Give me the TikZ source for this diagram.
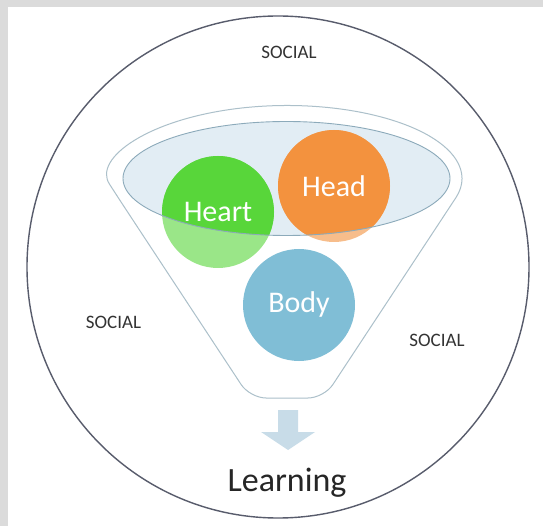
\documentclass[tikz,border=0pt]{standalone}
\usepackage{fontspec}
\setmainfont{Carlito}
\usepackage{xcolor}
\usetikzlibrary{positioning}

\definecolor{heartgreen}{RGB}{88,214,58}
\definecolor{headorange}{RGB}{243,146,62}
\definecolor{bodyblue}{RGB}{128,190,214}
\definecolor{bowlfill}{RGB}{226,237,244}
\definecolor{bowlline}{RGB}{140,170,186}
\definecolor{funnelline}{RGB}{172,192,202}
\definecolor{ringline}{RGB}{88,92,108}
\definecolor{flowblue}{RGB}{200,220,232}

\begin{document}
\begin{tikzpicture}[
    x=1pt, y=-1pt,
    ball/.style={circle, minimum size=112pt, inner sep=0pt},
    word/.style={text=white, font=\fontsize{30}{30}\selectfont},
    social/.style={text=black!80, font=\fontsize{19}{19}\selectfont},
    learn/.style={text=black!85, font=\fontsize{34}{34}\selectfont},
    rim/.style={draw=funnelline, line width=1pt},
]

% page frame
\fill[black!14] (0,0) rectangle (543,526);
\fill[white] (8,7) rectangle (543,526);
\useasboundingbox (0,0) rectangle (543,526);

% social circle
\draw[ringline, line width=1.4pt] (278,267) circle[radius=251];

% funnel
\draw[rim, fill=white] (118,197.4) arc[start angle=165, end angle=375, x radius=175, y radius=73]
    [rounded corners=16pt] -- (324,398) -- (250,398) -- cycle;
\fill[bowlfill] (286.5,178.5) ellipse[x radius=163.5, y radius=57];

% the three circles
\node[ball, fill=heartgreen, fill opacity=0.6] (heart) at (218,212) {};
\node[ball, fill=headorange, fill opacity=0.6] (head) at (334,186) {};
\node[ball, fill=bodyblue] (body) at (299,305) {};

\begin{scope}
  \clip (286.5,178.5) ellipse[x radius=163.5, y radius=57];
  \fill[heartgreen] (heart.center) circle[radius=56];
  \fill[headorange] (head.center) circle[radius=56];
\end{scope}
\draw[bowlline, line width=0.9pt] (286.5,178.5) ellipse[x radius=163.5, y radius=57];

\node[word] (heartword) at (heart) {Heart};
\node[word] (headword) at (head) {Head};
\node[word] (bodyword) at (body) {Body};

% outcome
\fill[flowblue] (278,410) -- (298,410) -- (298,432) -- (315,432) -- (288,450)
    -- (261,432) -- (278,432) -- cycle;
\node[learn] (learning) at (287,483) {Learning};

% labels
\node[social] (socialtop) at (289,52) {SOCIAL};
\node[social] (socialleft) at (113.5,322) {SOCIAL};
\node[social] (socialright) at (437,340) {SOCIAL};

\end{tikzpicture}
\end{document}
